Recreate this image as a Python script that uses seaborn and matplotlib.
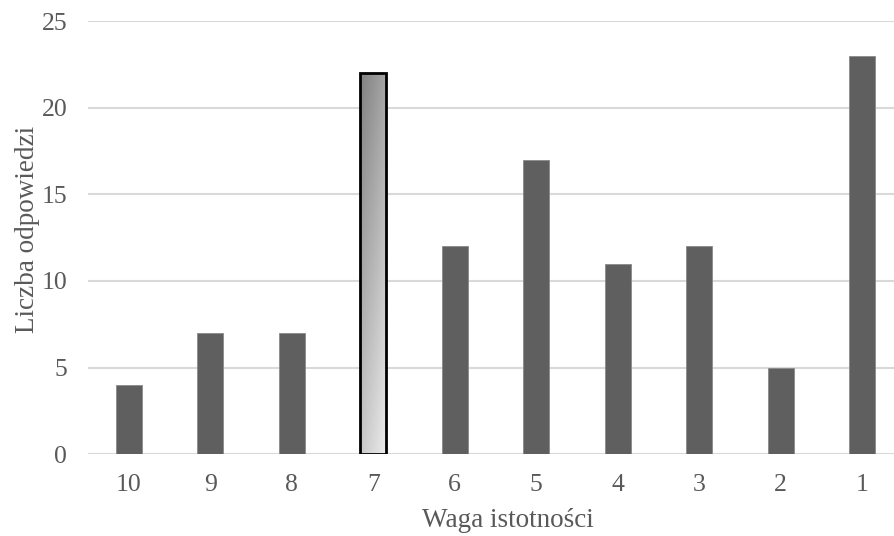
import numpy as np
import pandas as pd
import matplotlib
matplotlib.use("Agg")
import matplotlib.pyplot as plt
import seaborn as sns

# Importance weights (x axis, shown from 10 down to 1) and response counts
weights = ["10", "9", "8", "7", "6", "5", "4", "3", "2", "1"]
counts = [4, 7, 7, 22, 12, 17, 11, 12, 5, 23]
highlight = "7"

df = pd.DataFrame({"waga": weights, "liczba": counts})

sns.set_theme(style="white")
plt.rcParams["font.family"] = ["Liberation Serif", "DejaVu Serif"]

fig = plt.figure(figsize=(8.95, 5.36), dpi=100)
ax = fig.add_axes([88 / 895, 1 - 454.3 / 536, (895 - 88) / 895, (454.3 - 21) / 536])

bar_color = "#5f5f5f"
sns.barplot(data=df, x="waga", y="liczba", order=weights, color=bar_color,
            width=0.32, ax=ax, zorder=3, edgecolor="#8a8a8a", linewidth=0.6)

ax.set_ylim(0, 25)
step = 81.5
ax.set_xlim(-0.5, -0.5 + (895 - 88) / step)
ax.set_yticks([0, 5, 10, 15, 20, 25])

ax.yaxis.grid(True, color="#d9d9d9", linewidth=1.5, zorder=0)
ax.set_axisbelow(True)
for s in ax.spines.values():
    s.set_visible(False)

# Highlighted bar: diagonal grey gradient with a black outline
idx = weights.index(highlight)
patch = ax.patches[idx]
patch.set_facecolor("none")
patch.set_edgecolor("black")
patch.set_linewidth(2.0)
patch.set_zorder(5)
x0, y0 = patch.get_x(), patch.get_y()
w, h = patch.get_width(), patch.get_height()
n = 256
gx, gy = np.meshgrid(np.linspace(0, 1, n), np.linspace(0, 1, n))
t = 0.35 * (1 - gx) + 0.65 * gy  # dark at top-left, light at bottom-right
t = (t - t.min()) / (t.max() - t.min())
dark, light = 0.50, 0.93
grey = light + (dark - light) * t
img = ax.imshow(np.dstack([grey, grey, grey]), extent=[x0, x0 + w, y0, y0 + h],
                origin="lower", aspect="auto", zorder=4, interpolation="bilinear")
img.set_clip_path(patch)

tick_color = "#595959"
ax.tick_params(axis="both", length=0, labelsize=18.5, labelcolor=tick_color)
ax.tick_params(axis="y", pad=15)
ax.tick_params(axis="x", pad=14)

ax.set_xlabel("Waga istotności", fontsize=19.5, color=tick_color)
ax.set_ylabel("Liczba odpowiedzi", fontsize=19.5, color=tick_color)
ax.xaxis.set_label_coords(0.52, -0.125)
ax.yaxis.set_label_coords(-0.06, 0.52)

fig.savefig("out.png", dpi=100)
